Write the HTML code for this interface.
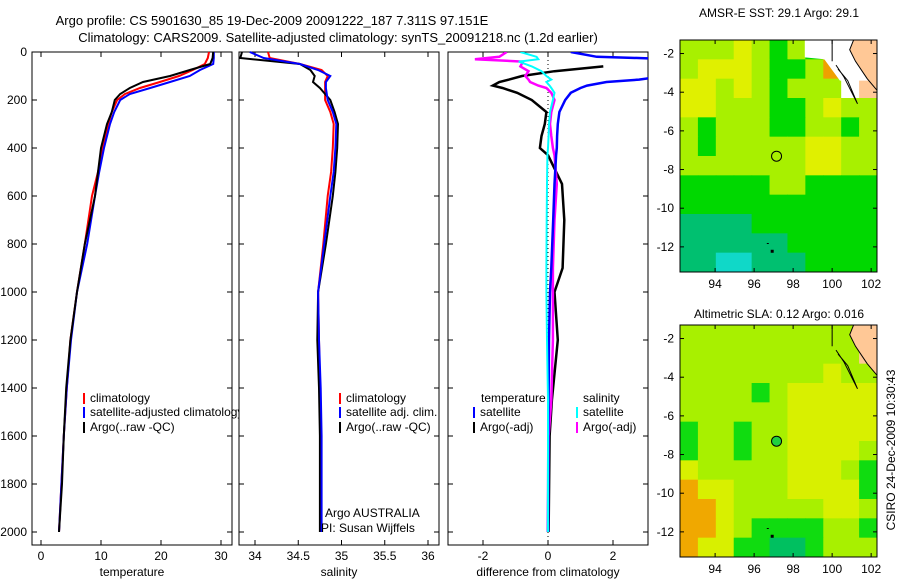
<!DOCTYPE html>
<html><head><meta charset="utf-8">
<style>
html,body{margin:0;padding:0;background:#fff;}
svg{display:block;font-family:"Liberation Sans",sans-serif;}
text{font-size:12px;fill:#000;}
</style></head>
<body>
<svg id="fig" width="900" height="580" viewBox="0 0 900 580">
<rect width="900" height="580" fill="#fff"/>
<text x="272" y="25" text-anchor="middle" style="font-size:13px">Argo profile: CS 5901630_85 19-Dec-2009 20091222_187 7.311S 97.151E</text>
<text x="338" y="42" text-anchor="middle" style="font-size:13px">Climatology: CARS2009. Satellite-adjusted climatology: synTS_20091218.nc (1.2d earlier)</text>
<g id="g1"></g><g id="g2"></g><g id="g3"></g><g id="m1"></g><g id="m2"></g>
<text transform="translate(895,450) rotate(-90)" text-anchor="middle">CSIRO 24-Dec-2009 10:30:43</text>
</svg>
<script>
const depths=[0,25,50,75,100,125,150,175,200,250,300,400,500,600,800,1000,1200,1400,1600,1800,2000];
const tArgo=[28.7,28.6,28.2,24.8,21.5,17,14.8,13.2,12.3,11.8,11,10,9.5,9,7.3,6,4.9,4.2,3.8,3.5,3.0];
const tClim=[28,27.8,27.3,25.3,23,19.8,16.5,14,12.7,11.8,11.2,10.3,9.5,8.5,7.3,6,4.9,4.3,3.8,3.4,3.0];
const tSat=[28.8,28.8,28.7,26.5,24.8,21.5,18.2,14.8,13.2,12.2,11.5,10.5,9.7,9,7.7,6,5,4.3,3.8,3.4,3.0];
const sArgo=[33.85,33.83,34.52,34.64,34.69,34.67,34.75,34.81,34.87,34.92,34.96,34.95,34.93,34.9,34.82,34.73,34.72,34.74,34.75,34.75,34.75];
const sClim=[34.15,34.17,34.52,34.77,34.84,34.81,34.81,34.81,34.81,34.87,34.91,34.9,34.88,34.84,34.79,34.73,34.74,34.75,34.76,34.76,34.76];
const sSat=[33.94,34.1,34.52,34.73,34.87,34.82,34.82,34.83,34.84,34.9,34.94,34.93,34.91,34.87,34.8,34.73,34.74,34.76,34.77,34.77,34.77];
const dDepths=[0,20,30,40,60,80,100,115,125,140,150,170,200,250,300,350,400,430,550,700,900,1000,1200,1450,1600,2000];
const dTsat=[0.7,1.5,4,4,4,4,3.6,2.8,1.8,1.2,1.0,0.7,0.53,0.35,0.3,0.28,0.27,0.25,0.2,0.16,0.1,0.06,0.03,0.02,0.01,0];
const dTargo=[null,null,null,null,1.7,0.2,-0.8,-1.2,-1.5,-1.7,-1.4,-0.95,-0.5,-0.05,-0.1,-0.2,-0.25,0,0.43,0.5,0.45,0.2,0.3,0.12,0.05,0.02];
const dSsat=[-0.85,-0.35,-0.3,-0.9,-0.5,-0.2,-0.05,0.1,-0.05,0.05,0.1,0.2,0.15,0.06,0.03,0.02,0,-0.02,-0.03,-0.04,-0.05,-0.05,-0.03,0,0,0];
const dSargo=[-1.27,-1.5,-2.25,-0.77,-0.85,-0.6,-0.7,-0.6,-0.55,-0.3,-0.05,0.1,0.2,0.1,0.06,0.1,0.15,0.2,0.27,0.2,0.15,0.15,0.15,0.1,0.02,0];
const depthTicks=[0,200,400,600,800,1000,1200,1400,1600,1800,2000];
const tTicks=[0,10,20,30];
const sTicks=[34,34.5,35,35.5,36];
const dTicks=[-2,0,2];
const sst=[
[3,3,3,4,3,2,3,2,9,9,8],[3,4,4,4,3,2,2,3,5,9,8],[4,4,3,4,3,2,3,3,3,9,8],[4,4,3,3,3,2,2,3,4,3,3],
[3,2,3,3,3,2,2,3,3,2,3],[3,2,3,3,3,3,3,4,4,3,3],[3,3,3,3,3,3,3,4,4,3,3],[2,2,2,2,2,3,3,2,2,2,2],
[2,2,2,2,2,2,2,2,2,2,2],[1,1,1,1,2,2,2,2,2,2,2],[1,1,1,1,1,1,2,2,2,2,2],[1,1,0,0,1,1,1,2,2,2,2]];
const sla=[
[3,3,3,3,3,3,3,3,3,3,8],[3,3,3,3,3,3,3,3,3,3,8],[3,3,3,3,3,3,3,3,4,3,3],[3,3,3,3,2,3,4,4,4,4,4],
[3,3,3,3,3,3,4,4,4,4,4],[2,3,3,2,3,3,4,4,4,4,4],[2,3,3,2,3,3,4,4,4,4,3],[4,3,3,3,3,3,4,4,4,3,2],
[5,4,4,3,3,3,4,4,4,4,2],[5,5,4,3,3,3,3,3,4,4,3],[5,5,4,3,2,2,2,2,3,3,2],[5,4,4,2,2,1,1,2,3,3,3]];
const lonTicks=[94,96,98,100,102];
const latTicks=[-2,-4,-6,-8,-10,-12];
const argoLon=97.15, argoLat=-7.31;

const NS='http://www.w3.org/2000/svg';
function mk(p,t,a){const e=document.createElementNS(NS,t);for(const k in a)e.setAttribute(k,a[k]);p.appendChild(e);return e;}
const yD=d=>52+0.24*d;

function panel(g,x0,x1,xs,ticks,fmt,label,name,showY){
  mk(g,'rect',{x:x0,y:52,width:x1-x0,height:493,fill:'#fff',stroke:'#000','stroke-width':1});
  depthTicks.forEach(d=>{const y=yD(d);
    mk(g,'line',{x1:x0,x2:x0+5,y1:y,y2:y,stroke:'#000'});
    mk(g,'line',{x1:x1-5,x2:x1,y1:y,y2:y,stroke:'#000'});
    if(showY){const t=mk(g,'text',{x:x0-5,y:y+4,'text-anchor':'end'});t.textContent=d;
      
      }
  });
  ticks.forEach(v=>{const x=xs(v);
    mk(g,'line',{x1:x,x2:x,y1:545,y2:540,stroke:'#000'});
    mk(g,'line',{x1:x,x2:x,y1:52,y2:57,stroke:'#000'});
    const t=mk(g,'text',{x:x,y:560,'text-anchor':'middle'});t.textContent=fmt(v);
    
    
  });
  const l=mk(g,'text',{x:(x0+x1)/2,y:576,'text-anchor':'middle'});l.textContent=label;
  
  
}
function line(g,ds,vals,xs,col,w,name){
  let p='';let pen=false;
  vals.forEach((v,i)=>{if(v===null){pen=false;return;}p+=(pen?'L':'M')+xs(v).toFixed(1)+','+yD(ds[i]).toFixed(1);pen=true;});
  const e=mk(g,'path',{d:p,fill:'none',stroke:col,'stroke-width':w});
  
  
}
function legend(g,x,y,col,txt,name){
  mk(g,'line',{x1:x,x2:x,y1:y-9,y2:y+2,stroke:col,'stroke-width':2});
  const t=mk(g,'text',{x:x+6,y:y});t.textContent=txt;
  
  
}
const g1=document.getElementById('g1');

const xT=v=>41+6*v;
panel(g1,32,232,xT,tTicks,v=>v,'temperature','temperature',true);
line(g1,depths,tClim,xT,'#f00',2,'temperature-climatology-line');
line(g1,depths,tSat,xT,'#00f',2,'temperature-satellite-line');
line(g1,depths,tArgo,xT,'#000',2,'temperature-argo-line');
legend(g1,84,402,'#f00','climatology','legend-climatology');
legend(g1,84,416,'#00f','satellite-adjusted climatology','legend-satellite-adjusted');
legend(g1,84,431,'#000','Argo(..raw -QC)','legend-argo');
const g2=document.getElementById('g2');

const xS=v=>255+86.5*(v-34);
panel(g2,239,439,xS,sTicks,v=>v,'salinity','salinity',false);
line(g2,depths,sClim,xS,'#f00',2,'salinity-climatology-line');
line(g2,depths,sArgo,xS,'#000',2,'salinity-argo-line');
line(g2,depths,sSat,xS,'#00f',2,'salinity-satellite-line');
legend(g2,340,402,'#f00','climatology','legend-s-climatology');
legend(g2,340,416,'#00f','satellite adj. clim.','legend-s-satellite');
legend(g2,340,431,'#000','Argo(..raw -QC)','legend-s-argo');
let t=mk(g2,'text',{x:325,y:517});t.textContent='Argo AUSTRALIA';

t=mk(g2,'text',{x:321,y:532});t.textContent='PI: Susan Wijffels';

const g3=document.getElementById('g3');

const xD=v=>548+32.5*v;
panel(g3,448,648,xD,dTicks,v=>v,'difference from climatology','difference',false);
mk(g3,'line',{x1:548,x2:548,y1:52,y2:545,stroke:'#000','stroke-dasharray':'1,3'});
const cp=mk(document.getElementById('fig'),'clipPath',{id:'c3'});mk(cp,'rect',{x:448,y:52,width:200,height:493});
const g3c=mk(g3,'g',{'clip-path':'url(#c3)'});
line(g3c,dDepths,dTargo,xD,'#000',2.5,'diff-temperature-argo-line');
line(g3c,dDepths,dSargo,xD,'#f0f',2.5,'diff-salinity-argo-line');
line(g3c,dDepths,dTsat,xD,'#00f',2.5,'diff-temperature-satellite-line');
line(g3c,dDepths,dSsat,xD,'#0ff',2,'diff-salinity-satellite-line');
t=mk(g3,'text',{x:481,y:402});t.textContent='temperature';

t=mk(g3,'text',{x:583,y:402});t.textContent='salinity';

legend(g3,474,416,'#00f','satellite','legend-d-t-satellite');
legend(g3,474,431,'#000','Argo(-adj)','legend-d-t-argo');
legend(g3,577,416,'#0ff','satellite','legend-d-s-satellite');
legend(g3,577,431,'#f0f','Argo(-adj)','legend-d-s-argo');
const cols={0:'#10d8c8',1:'#00c070',2:'#00d800',3:'#a8f000',4:'#e0f000',5:'#f0a000',8:'#ffc896',9:'#ffffff'};
const slaCols={0:'#10c8a0',1:'#00c060',2:'#10dc10',3:'#a8f000',4:'#d8f000',5:'#f0a800',8:'#ffc896',9:'#fff'};
function map(id,top,titleY,grid,pal,title,name,dotFill){
  const g=document.getElementById(id);
  
  const L0=92.2,L1=102.3,A0=-1.3,A1=-13.3,x0=680,x1=877,y1=top+232;
  const X=l=>x0+(l-L0)/(L1-L0)*(x1-x0);
  const Y=a=>top+(a-A0)/(A1-A0)*(y1-top);
  const nc=grid[0].length,nr=grid.length;
  grid.forEach((row,r)=>row.forEach((v,c)=>{
    const lo=L0+c*(L1-L0)/nc,la=A0+r*(A1-A0)/nr;
    const e=mk(g,'rect',{x:X(lo),y:Y(la),width:(x1-x0)/nc+0.5,height:(y1-top)/nr+0.5,fill:pal[v]});
    
    
  }));
  const P=pts=>pts.map(p=>X(p[0]).toFixed(1)+','+Y(p[1]).toFixed(1)).join(' ');
  if(id==='m1') mk(g,'polygon',{points:P([[98.6,-1.3],[101.1,-1.3],[102,-3.4],[100.4,-3.4],[99.6,-2.3],[98.6,-2.2]]),fill:'#fff'});
  mk(g,'polygon',{points:P([[101.1,-1.3],[102.3,-1.3],[102.3,-3.9],[101.8,-3.3],[101.2,-2.4],[100.9,-1.8]]),fill:'#ffc896',stroke:'#000','stroke-width':1});
  mk(g,'polyline',{points:P([[100.2,-2.6],[100.6,-3.2],[101.3,-4.6],[100.8,-3.4],[100.3,-2.8]]),fill:'none',stroke:'#000'});
  mk(g,'line',{x1:X(100),x2:X(100),y1:top,y2:Y(-2.4),stroke:'#000'});
  mk(g,'rect',{x:x0,y:top,width:x1-x0,height:y1-top,fill:'none',stroke:'#000'});
  lonTicks.forEach(l=>{const x=X(l);mk(g,'line',{x1:x,x2:x,y1:y1,y2:y1-4,stroke:'#000'});mk(g,'line',{x1:x,x2:x,y1:top,y2:top+4,stroke:'#000'});
    const t=mk(g,'text',{x:x,y:y1+16,'text-anchor':'middle'});t.textContent=l;
    });
  latTicks.forEach(a=>{const y=Y(a);mk(g,'line',{x1:x0,x2:x0+4,y1:y,y2:y,stroke:'#000'});mk(g,'line',{x1:x1-4,x2:x1,y1:y,y2:y,stroke:'#000'});
    const t=mk(g,'text',{x:x0-6,y:y+4,'text-anchor':'end'});t.textContent=a;
    });
  const c=mk(g,'circle',{cx:X(argoLon),cy:Y(argoLat),r:5,fill:dotFill,stroke:'#000'});
  
  mk(g,'rect',{x:X(96.85),y:Y(-12.15),width:3,height:3,fill:'#000'});
  mk(g,'rect',{x:X(96.65),y:Y(-11.8),width:2,height:1,fill:'#000'});
  const tt=mk(g,'text',{x:779,y:titleY,'text-anchor':'middle'});tt.textContent=title;
  
}
map('m1',40,17,sst,cols,'AMSR-E SST: 29.1 Argo: 29.1','sst-map','none');
map('m2',325,318,sla,slaCols,'Altimetric SLA: 0.12 Argo: 0.016','sla-map','#20d040');
</script>
</body></html>
